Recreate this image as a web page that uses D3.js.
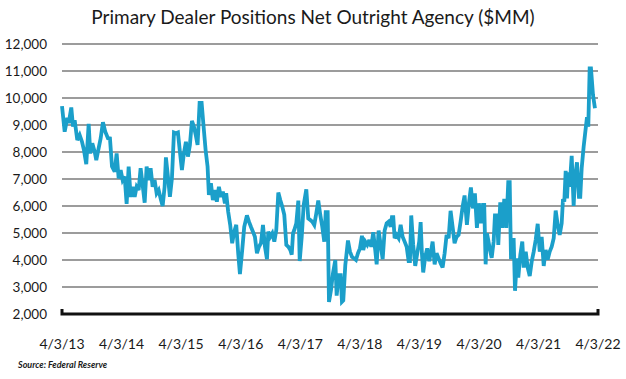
<!DOCTYPE html>
<html>
<head>
<meta charset="utf-8">
<script src="https://cdn.jsdelivr.net/npm/d3@7"></script>
<style>
  body { margin: 0; background: #fff; }
  text { font-family: Lato, "Open Sans", sans-serif; fill: #1a1a1a; }
  .grid line { stroke: #3a3a3a; stroke-width: 1.2; }
  .source { font-style: italic; font-weight: bold; font-size: 9px; }
</style>
</head>
<body>
<svg id="chart" width="626" height="379"></svg>
<script>
// chart text
var title = "Primary Dealer Positions Net Outright Agency ($MM)";
var source = "Source: Federal Reserve";

// tick values
var yTicks = [2000, 3000, 4000, 5000, 6000, 7000, 8000, 9000, 10000, 11000, 12000];
var xTickYears = [2013, 2014, 2015, 2016, 2017, 2018, 2019, 2020, 2021, 2022];

// dates as fractional years
var years = [
  2013.252, 2013.297, 2013.341, 2013.365, 2013.408, 2013.437, 2013.465, 2013.509, 2013.549, 2013.588,
  2013.621, 2013.660, 2013.700, 2013.727, 2013.761, 2013.801, 2013.828, 2013.868, 2013.902, 2013.940,
  2013.979, 2014.024, 2014.058, 2014.092, 2014.137, 2014.170, 2014.204, 2014.238, 2014.271, 2014.305,
  2014.338, 2014.372, 2014.406, 2014.439, 2014.473, 2014.506, 2014.540, 2014.573, 2014.607, 2014.641,
  2014.674, 2014.708, 2014.741, 2014.775, 2014.808, 2014.842, 2014.876, 2014.909, 2014.943, 2014.976,
  2014.998, 2015.032, 2015.065, 2015.099, 2015.133, 2015.166, 2015.200, 2015.233, 2015.267, 2015.300,
  2015.334, 2015.368, 2015.401, 2015.435, 2015.468, 2015.502, 2015.530, 2015.564, 2015.598, 2015.631,
  2015.665, 2015.698, 2015.720, 2015.754, 2015.787, 2015.821, 2015.854, 2015.888, 2015.922, 2015.955,
  2015.989, 2016.011, 2016.044, 2016.078, 2016.111, 2016.145, 2016.179, 2016.212, 2016.241, 2016.279,
  2016.313, 2016.358, 2016.392, 2016.425, 2016.459, 2016.492, 2016.526, 2016.560, 2016.593, 2016.627,
  2016.660, 2016.694, 2016.716, 2016.749, 2016.783, 2016.817, 2016.850, 2016.884, 2016.917, 2016.951,
  2016.984, 2017.018, 2017.052, 2017.085, 2017.109, 2017.131, 2017.152, 2017.186, 2017.220, 2017.243,
  2017.277, 2017.310, 2017.354, 2017.387, 2017.421, 2017.455, 2017.488, 2017.522, 2017.555, 2017.589,
  2017.622, 2017.656, 2017.680, 2017.713, 2017.735, 2017.769, 2017.802, 2017.841, 2017.864, 2017.898,
  2017.931, 2017.953, 2017.975, 2018.009, 2018.054, 2018.088, 2018.121, 2018.155, 2018.188, 2018.222,
  2018.255, 2018.289, 2018.311, 2018.344, 2018.378, 2018.412, 2018.445, 2018.479, 2018.512, 2018.536,
  2018.569, 2018.603, 2018.637, 2018.670, 2018.704, 2018.737, 2018.771, 2018.793, 2018.815, 2018.838,
  2018.872, 2018.905, 2018.939, 2018.972, 2019.006, 2019.040, 2019.073, 2019.095, 2019.117, 2019.150,
  2019.184, 2019.218, 2019.251, 2019.275, 2019.296, 2019.318, 2019.352, 2019.385, 2019.419, 2019.453,
  2019.476, 2019.510, 2019.543, 2019.577, 2019.610, 2019.644, 2019.678, 2019.711, 2019.745, 2019.778,
  2019.812, 2019.845, 2019.879, 2019.913, 2019.946, 2019.980, 2020.013, 2020.052, 2020.086, 2020.119,
  2020.153, 2020.186, 2020.220, 2020.253, 2020.287, 2020.321, 2020.342, 2020.366, 2020.388, 2020.410,
  2020.433, 2020.467, 2020.500, 2020.522, 2020.556, 2020.578, 2020.611, 2020.645, 2020.678, 2020.712,
  2020.745, 2020.769, 2020.791, 2020.813, 2020.836, 2020.858, 2020.891, 2020.913, 2020.947, 2020.980,
  2021.004, 2021.038, 2021.071, 2021.105, 2021.138, 2021.172, 2021.205, 2021.239, 2021.273, 2021.306,
  2021.340, 2021.373, 2021.407, 2021.441, 2021.474, 2021.508, 2021.541, 2021.575, 2021.608, 2021.642,
  2021.664, 2021.686, 2021.709, 2021.731, 2021.753, 2021.776, 2021.810, 2021.843, 2021.865, 2021.899,
  2021.932, 2021.954, 2021.978, 2022.011, 2022.033, 2022.067, 2022.089, 2022.112, 2022.134, 2022.168,
  2022.201
];

// net outright agency positions, $MM
var positions = [
  9700, 8750, 9260, 9070, 9650, 8940, 9180, 8440, 8630, 8380,
  8070, 7550, 9040, 7950, 8320, 8010, 7700, 8140, 8510, 9100,
  8750, 8510, 8500, 7460, 7270, 7950, 7020, 7330, 6960, 7090,
  6080, 7460, 6340, 6710, 6340, 6710, 6590, 7400, 6780, 6120,
  7460, 6960, 7400, 6710, 6960, 6470, 6590, 6280, 6000, 6710,
  7800, 7090, 6340, 7020, 8720, 8690, 8720, 8010, 7330, 7950,
  8380, 7830, 8260, 9150, 8940, 8600, 8260, 9820, 9820, 8940,
  8070, 7460, 6410, 6840, 6220, 6590, 6160, 6710, 6340, 6530,
  6100, 6470, 5790, 5300, 4620, 5050, 5300, 4250, 3480, 4370,
  5230, 5650, 5420, 5230, 5050, 4860, 4250, 4490, 4620, 5300,
  4490, 4030, 5050, 4860, 4990, 4680, 5110, 6500, 6220, 5970,
  5670, 4560, 4490, 4370, 4200, 4990, 5110, 5360, 6200, 3960,
  4860, 6040, 6620, 5540, 5480, 5420, 5300, 5730, 6200, 5670,
  5230, 4680, 5770, 5770, 2450, 2890, 3510, 4000, 2680, 3440,
  3440, 2450, 2500, 3810, 4720, 4310, 4120, 4060, 4000, 4250,
  4430, 4900, 4370, 4680, 4560, 4740, 4490, 5030, 4370, 3840,
  5090, 4560, 4030, 5090, 5360, 5420, 5230, 5590, 5590, 4810,
  4930, 4810, 5300, 4860, 4680, 4490, 3960, 3960, 5650, 4560,
  3780, 4250, 4680, 5400, 4250, 3540, 4120, 4430, 3960, 4370,
  4680, 3840, 4250, 4060, 3880, 3720, 4250, 4930, 4810, 5820,
  5230, 4620, 4860, 4930, 5420, 5970, 6390, 5300, 6100, 6690,
  5910, 6470, 5190, 6100, 5360, 6040, 6040, 3840, 4990, 4740,
  4430, 4080, 4680, 5650, 5650, 4560, 6140, 5190, 6260, 5190,
  6880, 6880, 4030, 4740, 4740, 2860, 4060, 3350, 4190, 4680,
  3720, 4310, 3720, 3410, 3940, 4310, 4740, 5340, 4310, 4860,
  3780, 4370, 4020, 4310, 4490, 4810, 5830, 5300, 4930, 5360,
  6260, 6160, 7300, 6280, 7250, 6710, 7860, 6000, 7020, 7620,
  6340, 6340, 7400, 8200, 8630, 9290, 8940, 11100, 11100, 10110,
  9620
];

function yearToDate(t) {
  var yr = Math.floor(t);
  var start = new Date(yr, 0, 1), end = new Date(yr + 1, 0, 1);
  return new Date(+start + (t - yr) * (end - start));
}

var data = years.map(function(t, i) { return { date: yearToDate(t), value: positions[i] }; });

var svg = d3.select("#chart");
var plot = {left: 62, right: 598, top: 44, bottom: 314};

var x = d3.scaleTime()
  .domain([new Date(2013, 3, 3), new Date(2022, 3, 3)])
  .range([plot.left, plot.right]);

var y = d3.scaleLinear()
  .domain([2000, 12000])
  .range([plot.bottom, plot.top]);

// title
svg.append("text")
  .attr("x", 313)
  .attr("y", 24)
  .attr("text-anchor", "middle")
  .style("font-size", "19px")
  .text(title);

// horizontal gridlines
svg.append("g")
  .attr("class", "grid")
  .selectAll("line")
  .data(yTicks.filter(function(d) { return d > 2000; }))
  .enter().append("line")
    .attr("x1", plot.left)
    .attr("x2", plot.right)
    .attr("y1", function(d) { return y(d); })
    .attr("y2", function(d) { return y(d); });

// y labels
svg.append("g")
  .selectAll("text")
  .data(yTicks)
  .enter().append("text")
    .attr("x", 47)
    .attr("y", function(d) { return y(d); })
    .attr("dy", "0.35em")
    .attr("text-anchor", "end")
    .style("font-size", "13.5px")
    .text(d3.format(","));

// the series
var line = d3.line()
  .x(function(d) { return x(d.date); })
  .y(function(d) { return y(d.value); });

svg.append("path")
  .datum(data)
  .attr("fill", "none")
  .attr("stroke", "#1b9fca")
  .attr("stroke-width", 3.8)
  .attr("stroke-linejoin", "miter")
  .attr("stroke-miterlimit", 3)
  .attr("d", line);

// bottom axis with turned-up ends
svg.append("path")
  .attr("fill", "none")
  .attr("stroke", "#111")
  .attr("stroke-width", 3)
  .attr("d", "M" + plot.left + "," + (plot.bottom - 5) + "V" + plot.bottom + "H" + plot.right + "V" + (plot.bottom - 5));

// x labels
var fmt = d3.timeFormat("%-m/%-d/%y");
svg.append("g")
  .selectAll("text")
  .data(xTickYears)
  .enter().append("text")
    .attr("x", function(d) { return x(new Date(d, 3, 3)); })
    .attr("y", 349)
    .attr("text-anchor", "middle")
    .style("font-size", "14px")
    .text(function(d) { return fmt(new Date(d, 3, 3)); });

// source
svg.append("text")
  .attr("class", "source")
  .attr("x", 18)
  .attr("y", 368)
  .text(source);
</script>
</body>
</html>
